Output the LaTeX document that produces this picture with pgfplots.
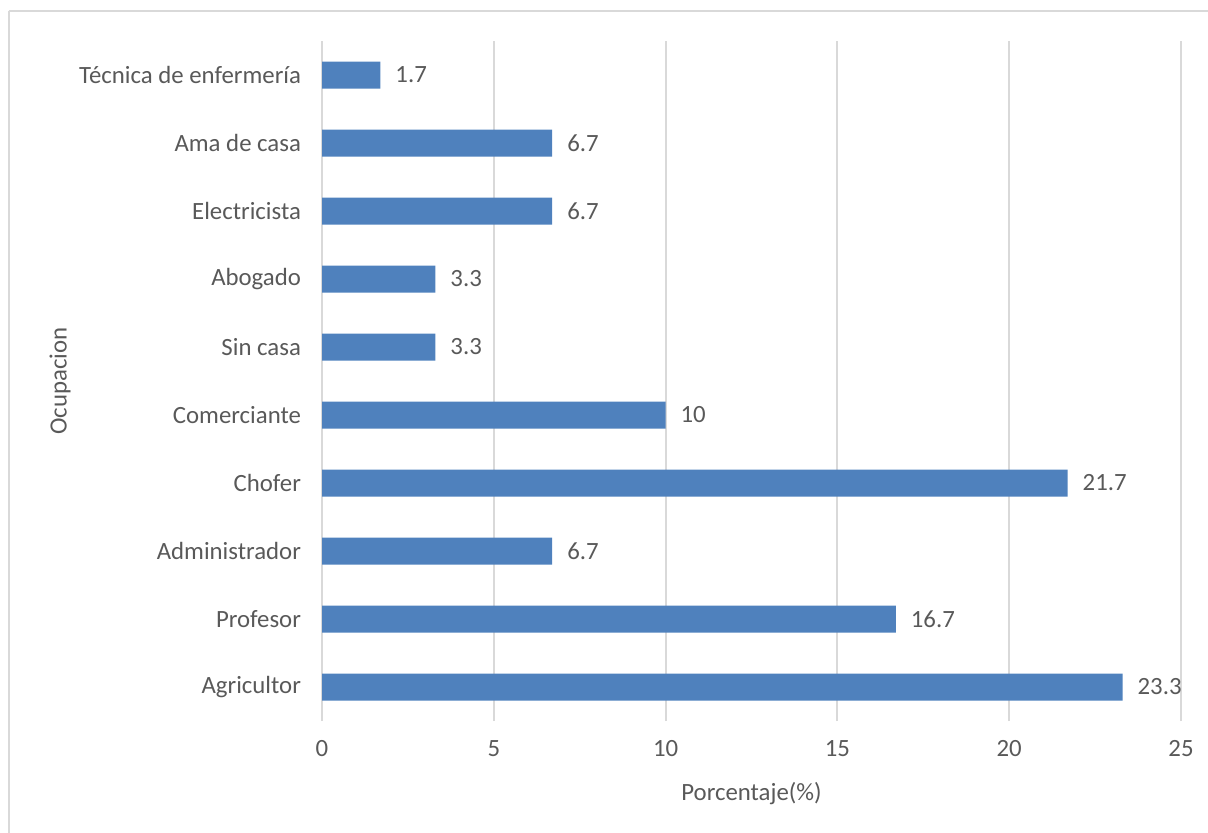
\documentclass[border=0pt]{standalone}
\usepackage{pgfplots}
\pgfplotsset{compat=1.18}
\usepackage{fontspec}
\setmainfont{Carlito}
\definecolor{barblue}{HTML}{4F81BD}
\definecolor{txtgray}{HTML}{595959}
\definecolor{gridgray}{HTML}{D9D9D9}
\begin{document}
\begin{tikzpicture}[x=0.5pt,y=-0.5pt]
  % page = 1208 x 832 px, 1 px = 0.5pt
  \path[use as bounding box] (0,0) rectangle (1208,832);
  \draw[gridgray, line width=1pt] (8.5,11) -- (1220,11);
  \draw[gridgray, line width=1pt] (8.5,11) -- (8.5,845);
  \begin{axis}[
      at={(322pt*0.5,-721pt*0.5)}, anchor=south west,
      scale only axis,
      width=429.5pt, height=340pt,
      xbar,
      bar width=13.5pt,
      xmin=0, xmax=25,
      ymin=-0.5, ymax=9.5,
      xtick={0,5,...,25},
      ytick={0,1,...,9},
      yticklabels={Agricultor, Profesor, Administrador, Chofer, Comerciante,
        Sin casa, Abogado, Electricista, Ama de casa, Técnica de enfermería},
      axis line style={draw=none},
      major tick length=0pt,
      xmajorgrids,
      grid style={gridgray, line width=1pt},
      tick label style={font=\fontsize{12.4}{14}\selectfont, text=txtgray},
      /pgf/number format/assume math mode=true,
      xticklabel style={yshift=-6pt},
      yticklabel style={xshift=-7pt},
      xlabel={Porcentaje(\%)},
      ylabel={Ocupacion},
      label style={font=\fontsize{12.4}{14}\selectfont, text=txtgray},
      xlabel style={at={(axis description cs:0.5,-0.106)}, anchor=center},
      ylabel style={at={(axis description cs:-0.305,0.5)}, anchor=center, rotate=0},
      nodes near coords,
      every node near coord/.append style={font=\fontsize{12.4}{14}\selectfont,
        text=txtgray, anchor=west, xshift=4pt},
      point meta=explicit symbolic,
    ]
    \addplot[fill=barblue, draw=none] coordinates {
      (23.3,0) [23.3]
      (16.7,1) [16.7]
      (6.7,2) [6.7]
      (21.7,3) [21.7]
      (10,4) [10]
      (3.3,5) [3.3]
      (3.3,6) [3.3]
      (6.7,7) [6.7]
      (6.7,8) [6.7]
      (1.7,9) [1.7]
    };
  \end{axis}
\end{tikzpicture}
\end{document}
